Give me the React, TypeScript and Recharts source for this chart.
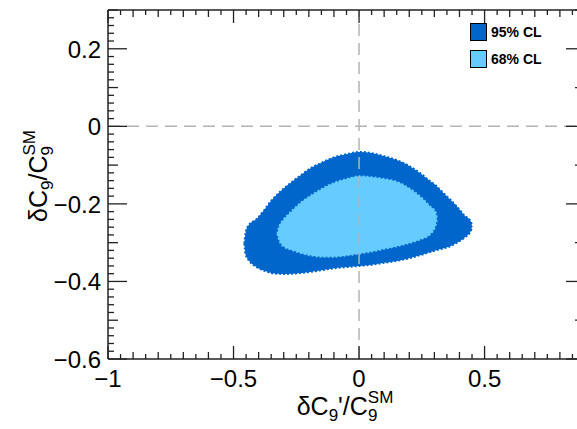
import React from 'react'
import { ComposedChart, Area, XAxis, YAxis, ReferenceLine, Legend } from 'recharts'

const X_GRID = [
  -0.457, -0.452, -0.44, -0.41, -0.38, -0.35, -0.325, -0.32, -0.3, -0.27, -0.23, -0.19, -0.15, -0.1, -0.05,
  0, 0.05, 0.1, 0.15, 0.2, 0.25, 0.28, 0.305, 0.31, 0.33, 0.36, 0.39, 0.42, 0.445, 0.45,
]
// 95% CL band (lower / upper edge in δC9)
const CL95_LO = [
  -0.302, -0.33, -0.345, -0.362, -0.372, -0.378, -0.38, -0.38, -0.381, -0.38, -0.378, -0.375, -0.371, -0.366, -0.363,
  -0.36, -0.357, -0.352, -0.347, -0.34, -0.331, -0.325, -0.32, -0.319, -0.316, -0.31, -0.3, -0.287, -0.27, -0.258,
]
const CL95_HI = [
  -0.302, -0.275, -0.255, -0.24, -0.218, -0.192, -0.175, -0.172, -0.16, -0.145, -0.125, -0.107, -0.094, -0.08, -0.072,
  -0.066, -0.069, -0.077, -0.087, -0.102, -0.124, -0.14, -0.152, -0.155, -0.168, -0.187, -0.207, -0.23, -0.245, -0.258,
]
// 68% CL band
const CL68_LO = [
  null, null, null, null, null, null, -0.277, -0.29, -0.31, -0.318, -0.327, -0.333, -0.336, -0.336, -0.333,
  -0.328, -0.323, -0.316, -0.309, -0.301, -0.29, -0.28, -0.255, -0.238, null, null, null, null, null, null,
]
const CL68_HI = [
  null, null, null, null, null, null, -0.277, -0.262, -0.24, -0.22, -0.196, -0.178, -0.162, -0.146, -0.136,
  -0.129, -0.131, -0.136, -0.143, -0.16, -0.185, -0.205, -0.222, -0.238, null, null, null, null, null, null,
]

const X_LABELS = [-1, -0.5, 0, 0.5]
const Y_LABELS = [-0.6, -0.4, -0.2, 0, 0.2]
const LEGEND = [
  { name: '95% CL', color: '#0066cc' },
  { name: '68% CL', color: '#66ccff' },
]

const DARK = '#0066cc'
const LIGHT = '#66ccff'
const AXIS = '#222'

const rows = X_GRID.map((x, i) => ({
  x,
  cl95: [CL95_LO[i], CL95_HI[i]],
  cl68: CL68_LO[i] == null ? null : [CL68_LO[i], CL68_HI[i]],
}))

// tick grids: 0.05 on x, 0.02 on y
const xTicks = Array.from({ length: 39 }, (_, i) => Math.round((-1 + i * 0.05) * 100) / 100)
const yTicks = Array.from({ length: 46 }, (_, i) => Math.round((-0.6 + i * 0.02) * 100) / 100)

const isMul = (v: number, step: number) => Math.abs(v / step - Math.round(v / step)) < 1e-6
const xLen = (v: number) => (isMul(v, 0.5) ? 13 : isMul(v, 0.1) ? 7 : 5)
const yLen = (v: number) => (isMul(v, 0.2) ? 19 : isMul(v, 0.1) ? 10 : 6)
const fmt = (v: number) => (v < 0 ? '\u2212' + Math.abs(v) : String(Math.abs(v)))
const has = (list: number[], v: number) => list.some(l => Math.abs(l - v) < 1e-6)

const BottomTick = ({ x, y, payload }: any) => {
  const v = payload.value
  return (
    <g>
      <line x1={x} x2={x} y1={y} y2={y - xLen(v)} stroke={AXIS} strokeWidth={1.3} />
      {has(X_LABELS, v) && (
        <text x={x} y={y + 28} textAnchor="middle" fontSize={24} fill="#000">{fmt(v)}</text>
      )}
    </g>
  )
}

const TopTick = ({ x, y, payload }: any) => (
  <line x1={x} x2={x} y1={y} y2={y + xLen(payload.value)} stroke={AXIS} strokeWidth={1.3} />
)

const LeftTick = ({ x, y, payload }: any) => {
  const v = payload.value
  return (
    <g>
      <line x1={x} x2={x + yLen(v)} y1={y} y2={y} stroke={AXIS} strokeWidth={1.3} />
      {has(Y_LABELS, v) && (
        <text x={x - 7} y={y + 9} textAnchor="end" fontSize={24} fill="#000">{fmt(v)}</text>
      )}
    </g>
  )
}

const RightTick = ({ x, y, payload }: any) => (
  <line x1={x} x2={x - yLen(payload.value)} y1={y} y2={y} stroke={AXIS} strokeWidth={1.3} />
)

const XTitle = () => (
  <text x={345} y={415} textAnchor="middle" fontSize={25} fill="#000">
    δC<tspan dy={6} fontSize={17}>9</tspan>
    <tspan dy={-6}>'/C</tspan>
    <tspan dy={6} fontSize={17}>9</tspan>
    <tspan dx={-9.5} dy={-18} fontSize={17}>SM</tspan>
  </text>
)

const YTitle = () => (
  <text transform="translate(47,176) rotate(-90)" textAnchor="middle" fontSize={25} fill="#000">
    δC<tspan dy={6} fontSize={17}>9</tspan>
    <tspan dy={-6}>/C</tspan>
    <tspan dy={6} fontSize={17}>9</tspan>
    <tspan dx={-9.5} dy={-18} fontSize={17}>SM</tspan>
  </text>
)

const LegendBox = () => (
  <div>
    {LEGEND.map(l => (
      <div key={l.name} style={{ display: 'flex', alignItems: 'center', height: 27 }}>
        <span style={{ width: 15, height: 16, background: l.color, border: '1.5px solid #000', display: 'inline-block' }} />
        <span style={{ marginLeft: 4, fontSize: 14, fontWeight: 'bold', color: '#000' }}>{l.name}</span>
      </div>
    ))}
  </div>
)

export default function App() {
  return (
    <div style={{
      position: 'absolute', left: 0, top: 0, width: 577, height: 429, overflow: 'hidden',
      background: '#fff', fontFamily: '"Liberation Sans", Arial, sans-serif',
    }}>
      <ComposedChart width={586} height={429} data={rows} margin={{ top: 0, right: 0, bottom: 0, left: 0 }}>
        <XAxis
          dataKey="x" type="number" domain={[-1, 0.9]} allowDataOverflow
          ticks={xTicks} interval={0} tick={<BottomTick />} tickSize={0} tickMargin={0}
          height={70} axisLine={{ stroke: AXIS, strokeWidth: 1.5 }} tickLine={false}
          label={<XTitle />}
        />
        <XAxis
          xAxisId="top" orientation="top" dataKey="x" type="number" domain={[-1, 0.9]} allowDataOverflow
          ticks={xTicks} interval={0} tick={<TopTick />} tickSize={0} tickMargin={0}
          height={10} axisLine={{ stroke: AXIS, strokeWidth: 1.5 }} tickLine={false}
        />
        <YAxis
          type="number" domain={[-0.6, 0.3]} allowDataOverflow
          ticks={yTicks} interval={0} tick={<LeftTick />} tickSize={0} tickMargin={0}
          width={108} axisLine={{ stroke: AXIS, strokeWidth: 1.5 }} tickLine={false}
          label={<YTitle />}
        />
        <YAxis
          yAxisId="right" orientation="right" type="number" domain={[-0.6, 0.3]} allowDataOverflow
          ticks={yTicks} interval={0} tick={<RightTick />} tickSize={0} tickMargin={0}
          width={1} axisLine={{ stroke: AXIS, strokeWidth: 1.5 }} tickLine={false}
        />
        <Legend
          layout="vertical" align="center" verticalAlign="middle"
          content={<LegendBox />}
          wrapperStyle={{ position: 'absolute', left: 470, top: 18, width: 110 }}
        />
        <Area
          dataKey="cl95" type="monotone" fill={DARK} fillOpacity={1}
          stroke={DARK} strokeWidth={2} strokeDasharray="2 2" isAnimationActive={false}
        />
        <Area
          dataKey="cl68" type="monotone" fill={LIGHT} fillOpacity={1}
          stroke={LIGHT} strokeWidth={2} strokeDasharray="2 2" isAnimationActive={false}
        />
        <ReferenceLine y={0} stroke="#b4b4b4" strokeWidth={1.5} strokeDasharray="12 7" />
        <ReferenceLine x={0} stroke="#b4b4b4" strokeWidth={1.5} strokeDasharray="12 7" />
      </ComposedChart>
    </div>
  )
}
